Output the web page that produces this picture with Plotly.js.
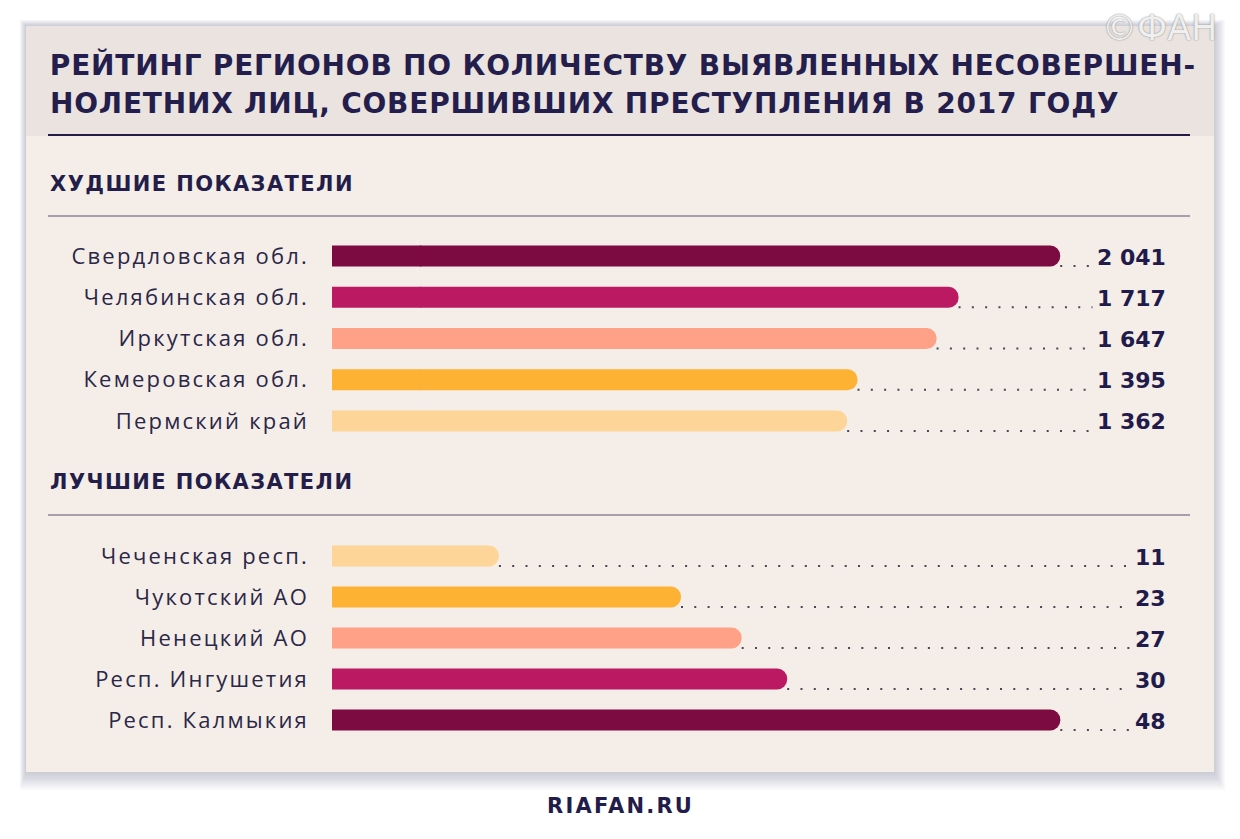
<!DOCTYPE html>
<html>
<head>
<meta charset="utf-8">
<script src="https://cdn.plot.ly/plotly-3.0.1.min.js"></script>
<style>
  html, body { margin: 0; padding: 0; background: #ffffff; }
  #chart { width: 1240px; height: 839px; }
  .ytick text, .y2tick text { letter-spacing: 2.2px; }
  .annotation[data-index="0"] text, .annotation[data-index="1"] text { letter-spacing: 0.8px; }
  .annotation[data-index="2"] text, .annotation[data-index="3"] text { letter-spacing: 1.4px; }
  .annotation[data-index="4"] text { letter-spacing: 2.2px; }
</style>
</head>
<body>
<div id="chart"></div>
<script>
// ---------- data ----------
const titleLines = ['РЕЙТИНГ РЕГИОНОВ ПО КОЛИЧЕСТВУ ВЫЯВЛЕННЫХ НЕСОВЕРШЕН-', 'НОЛЕТНИХ ЛИЦ, СОВЕРШИВШИХ ПРЕСТУПЛЕНИЯ В 2017 ГОДУ'];
const worstHeading = 'ХУДШИЕ ПОКАЗАТЕЛИ';
const bestHeading = 'ЛУЧШИЕ ПОКАЗАТЕЛИ';
const worstRegions = ['Свердловская обл.', 'Челябинская обл.', 'Иркутская обл.', 'Кемеровская обл.', 'Пермский край'];
const worstValues = [2041, 1717, 1647, 1395, 1362];
const bestRegions = ['Чеченская респ.', 'Чукотский АО', 'Ненецкий АО', 'Респ. Ингушетия', 'Респ. Калмыкия'];
const bestValues = [11, 23, 27, 30, 48];
const sourceText = 'RIAFAN.RU';
const logoText = '©ФАН';

// ---------- style ----------
const W = 1240, H = 839;
const px = x => x / W;
const py = y => 1 - y / H;
const worstColors = ['#7b0b40', '#bb1a63', '#fea187', '#fdb234', '#fed598'];
const bestColors = ['#fed598', '#fdb234', '#fea187', '#bb1a63', '#7b0b40'];
const navy = '#1f1b4b';
const bodyBg = '#f5ede7';
const headBg = '#ebe3e0';
const TOP_START = -280;              // the upper scale starts left of zero
const topRange = [TOP_START, 2375];
const botRange = [0, 54.9];
const fmt = v => String(v).replace(/\B(?=(\d{3})+(?!\d))/g, ' ');
// letter-spacing compensation for left-anchored annotations
const comp = (text, ls) => ls * text.length / 2 - 2;

const traces = [
  { // square-ended stub that fills the upper scale from its start to zero (1px overlap under the main bar)
    type: 'bar', orientation: 'h', xaxis: 'x', yaxis: 'y', opacity: 1,
    y: worstRegions, x: worstRegions.map(() => -TOP_START + 4), base: TOP_START,
    marker: { color: worstColors, opacity: 1, line: { width: 0 } },
    hoverinfo: 'skip'
  },
  {
    type: 'bar', orientation: 'h', xaxis: 'x', yaxis: 'y', opacity: 1,
    y: worstRegions, x: worstValues,
    marker: { color: worstColors, opacity: 1, cornerradius: '50%', line: { width: 0 } },
    hoverinfo: 'skip'
  },
  {
    type: 'bar', orientation: 'h', xaxis: 'x2', yaxis: 'y2', opacity: 1,
    y: bestRegions, x: bestValues,
    marker: { color: bestColors, opacity: 1, cornerradius: '50%', line: { width: 0 } },
    hoverinfo: 'skip'
  }
];

const shapes = [];
// card shadow
for (let i = 14; i >= 1; i--) {
  shapes.push({ type: 'rect', xref: 'paper', yref: 'paper', layer: 'below',
    x0: px(26 - i * 0.45), x1: px(1214 + i * 0.8), y0: py(772 + i * 1.3), y1: py(26 - i * 0.45),
    fillcolor: 'rgba(120,120,165,0.032)', line: { width: 0 } });
}
shapes.push({ type: 'rect', xref: 'paper', yref: 'paper', layer: 'below',
  x0: px(26), x1: px(1214), y0: py(772), y1: py(26), fillcolor: bodyBg, line: { width: 0 } });
shapes.push({ type: 'rect', xref: 'paper', yref: 'paper', layer: 'below',
  x0: px(26), x1: px(1214), y0: py(136), y1: py(26), fillcolor: headBg, line: { width: 0 } });
shapes.push({ type: 'line', xref: 'paper', yref: 'paper', layer: 'below',
  x0: px(48), x1: px(1190), y0: py(135), y1: py(135), line: { color: '#231d45', width: 2 } });
shapes.push({ type: 'line', xref: 'paper', yref: 'paper', layer: 'below',
  x0: px(48), x1: px(1190), y0: py(216), y1: py(216), line: { color: '#8a8698', width: 1.6 } });
shapes.push({ type: 'line', xref: 'paper', yref: 'paper', layer: 'below',
  x0: px(48), x1: px(1190), y0: py(515), y1: py(515), line: { color: '#8a8698', width: 1.6 } });
// dotted leaders
function leaders(regions, values, xr, yr, xmax) {
  regions.forEach((r, i) => {
    shapes.push({ type: 'line', xref: xr, yref: yr, layer: 'below',
      x0: values[i], x1: xmax, ysizemode: 'pixel', yanchor: r, y0: -10, y1: -10,
      line: { color: '#4a4656', width: 2, dash: '2px,11.3px' } });
  });
}
leaders(worstRegions, worstValues, 'x', 'y', topRange[1]);
leaders(bestRegions, bestValues, 'x2', 'y2', botRange[1]);

const boldFont = (size, color) => ({ family: 'DejaVu Sans', size: size, color: color || navy, weight: 700 });
const annotations = [
  { text: titleLines[0], xref: 'paper', yref: 'paper', x: px(50 + comp(titleLines[0], 0.8)), y: py(65), xanchor: 'left', yanchor: 'middle', showarrow: false, font: boldFont(28, '#241e4c') },
  { text: titleLines[1], xref: 'paper', yref: 'paper', x: px(50 + comp(titleLines[1], 0.8)), y: py(103), xanchor: 'left', yanchor: 'middle', showarrow: false, font: boldFont(28, '#241e4c') },
  { text: worstHeading, xref: 'paper', yref: 'paper', x: px(50 + comp(worstHeading, 1.4)), y: py(184), xanchor: 'left', yanchor: 'middle', showarrow: false, font: boldFont(21, '#231d4a') },
  { text: bestHeading, xref: 'paper', yref: 'paper', x: px(50 + comp(bestHeading, 1.4)), y: py(482), xanchor: 'left', yanchor: 'middle', showarrow: false, font: boldFont(21, '#231d4a') },
  { text: sourceText, xref: 'paper', yref: 'paper', x: 0.5, y: py(806), xanchor: 'center', yanchor: 'middle', showarrow: false, font: boldFont(21, '#221c4a') },
  { text: logoText, xref: 'paper', yref: 'paper', x: px(1219), y: py(28), xanchor: 'right', yanchor: 'middle', showarrow: false,
    font: { family: 'DejaVu Sans', size: 35, color: '#efefef', shadow: '0px 0px 1.5px #6f6f6f' } }
];
function valueLabels(regions, values, yr) {
  regions.forEach((r, i) => {
    annotations.push({ text: fmt(values[i]), xref: 'paper', yref: yr, x: px(1171), y: r, xanchor: 'right', yanchor: 'middle',
      yshift: -1, showarrow: false, bgcolor: bodyBg, borderpad: 4, font: boldFont(22) });
  });
}
valueLabels(worstRegions, worstValues, 'y');
valueLabels(bestRegions, bestValues, 'y2');

const yCommon = {
  type: 'category', autorange: 'reversed', showgrid: false, zeroline: false, showline: false,
  ticks: '', ticklabelstandoff: 22, tickfont: { family: 'Open Sans', size: 22, color: '#2a2747' }, fixedrange: true
};
const xCommon = { visible: false, showgrid: false, zeroline: false, fixedrange: true };

const layout = {
  width: W, height: H,
  margin: { l: 0, r: 0, t: 0, b: 0 },
  paper_bgcolor: '#ffffff', plot_bgcolor: 'rgba(0,0,0,0)',
  showlegend: false, bargap: 0.49, barmode: 'overlay',
  xaxis: Object.assign({}, xCommon, { domain: [px(332), px(1165)], range: topRange, anchor: 'y' }),
  xaxis2: Object.assign({}, xCommon, { domain: [px(332), px(1165)], range: botRange, anchor: 'y2' }),
  yaxis: Object.assign({}, yCommon, { domain: [py(441.6), py(235.4)], anchor: 'x' }),
  yaxis2: Object.assign({}, yCommon, { domain: [py(740.5), py(535.5)], anchor: 'x2' }),
  shapes: shapes,
  annotations: annotations
};

Plotly.newPlot('chart', traces, layout, { displayModeBar: false, staticPlot: true });
</script>
</body>
</html>
